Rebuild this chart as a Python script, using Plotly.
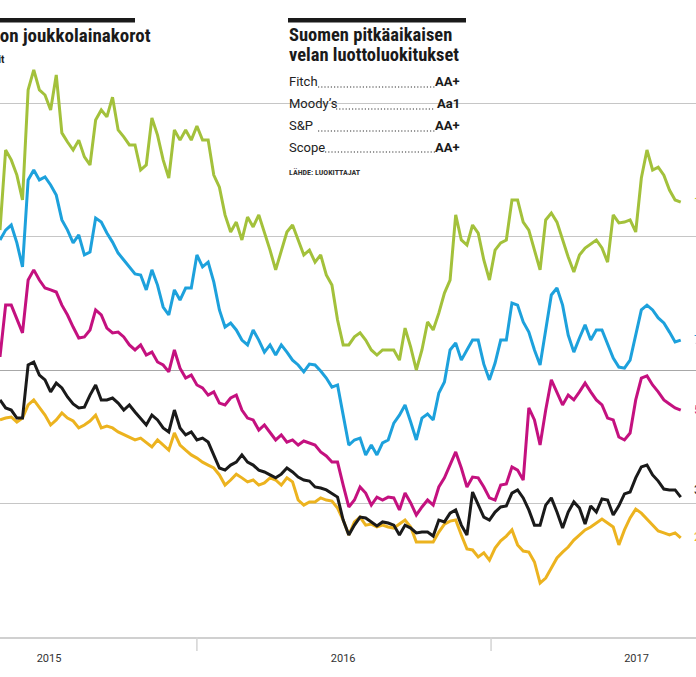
import pandas as pd
import plotly.graph_objects as go

# ---------------- data ----------------
dates = pd.date_range("2015-05-01", periods=122, freq="7D")

series_names = ["10 v", "7 v", "5 v", "3 v", "2 v"]
series_colors = ["#a3c13b", "#1da1dc", "#c4117f", "#1a1a1a", "#ecb31f"]

y10 = [0.524, 0.824, 0.787, 0.730, 0.637, 1.049, 1.124, 1.049, 1.030, 0.974,
       1.105, 0.888, 0.854, 0.824, 0.861, 0.798, 0.768, 0.936, 0.974, 0.948,
       1.022, 0.899, 0.873, 0.843, 0.843, 0.749, 0.768, 0.944, 0.880, 0.787,
       0.719, 0.899, 0.861, 0.899, 0.861, 0.914, 0.861, 0.861, 0.730, 0.685,
       0.581, 0.517, 0.554, 0.487, 0.573, 0.536, 0.581, 0.517, 0.449, 0.375,
       0.449, 0.517, 0.543, 0.487, 0.431, 0.449, 0.404, 0.431, 0.356, 0.318,
       0.187, 0.094, 0.094, 0.124, 0.139, 0.112, 0.075, 0.056, 0.075, 0.075,
       0.075, 0.037, 0.157, 0.086, 0.000, 0.075, 0.180, 0.150, 0.213, 0.288,
       0.337, 0.581, 0.487, 0.468, 0.543, 0.513, 0.412, 0.337, 0.449, 0.476,
       0.487, 0.637, 0.637, 0.554, 0.524, 0.449, 0.375, 0.562, 0.588, 0.554,
       0.487, 0.423, 0.367, 0.431, 0.457, 0.472, 0.487, 0.457, 0.404, 0.581,
       0.551, 0.554, 0.562, 0.517, 0.719, 0.824, 0.749, 0.760, 0.730, 0.674,
       0.637, 0.629]

y7 = [0.487, 0.524, 0.543, 0.476, 0.386, 0.712, 0.749, 0.712, 0.723, 0.693,
      0.655, 0.562, 0.524, 0.476, 0.506, 0.431, 0.442, 0.569, 0.554, 0.513,
      0.479, 0.438, 0.412, 0.386, 0.360, 0.356, 0.300, 0.375, 0.318, 0.236,
      0.206, 0.300, 0.262, 0.307, 0.307, 0.431, 0.386, 0.404, 0.330, 0.225,
      0.161, 0.176, 0.150, 0.112, 0.094, 0.150, 0.112, 0.067, 0.094, 0.056,
      0.094, 0.067, 0.037, 0.019, -0.007, 0.022, 0.019, -0.004, -0.030, -0.064,
      -0.056, -0.169, -0.281, -0.262, -0.255, -0.318, -0.281, -0.318, -0.273, -0.262,
      -0.199, -0.169, -0.131, -0.195, -0.262, -0.180, -0.165, -0.187, -0.086, -0.045,
      0.075, 0.101, 0.037, 0.075, 0.112, 0.112, 0.022, -0.037, 0.026, 0.112,
      0.112, 0.251, 0.243, 0.180, 0.142, 0.075, 0.019, 0.150, 0.281, 0.307,
      0.243, 0.131, 0.067, 0.120, 0.169, 0.112, 0.150, 0.150, 0.094, 0.045,
      0.011, 0.007, 0.037, 0.131, 0.225, 0.243, 0.225, 0.195, 0.176, 0.142,
      0.105, 0.112]

y5 = [0.049, 0.243, 0.243, 0.187, 0.139, 0.337, 0.375, 0.337, 0.307, 0.300,
      0.292, 0.243, 0.206, 0.161, 0.120, 0.124, 0.150, 0.225, 0.206, 0.157,
      0.139, 0.142, 0.124, 0.094, 0.075, 0.094, 0.056, 0.067, 0.030, 0.019,
      -0.007, 0.075, 0.007, -0.030, -0.019, -0.056, -0.067, -0.094, -0.082, -0.124,
      -0.131, -0.105, -0.094, -0.150, -0.180, -0.187, -0.225, -0.206, -0.236, -0.262,
      -0.243, -0.270, -0.262, -0.281, -0.266, -0.273, -0.281, -0.307, -0.322, -0.345,
      -0.345, -0.431, -0.513, -0.487, -0.438, -0.461, -0.506, -0.476, -0.487, -0.476,
      -0.479, -0.524, -0.461, -0.498, -0.543, -0.513, -0.487, -0.506, -0.438, -0.404,
      -0.356, -0.307, -0.367, -0.438, -0.401, -0.404, -0.438, -0.479, -0.487, -0.431,
      -0.427, -0.363, -0.375, -0.412, -0.142, -0.187, -0.281, -0.150, -0.037, -0.082,
      -0.131, -0.094, -0.112, -0.082, -0.049, -0.082, -0.112, -0.131, -0.180, -0.187,
      -0.251, -0.262, -0.236, -0.112, -0.030, -0.022, -0.056, -0.082, -0.112, -0.127,
      -0.142, -0.150]

y3 = [-0.112, -0.142, -0.150, -0.180, -0.180, 0.019, 0.030, -0.019, -0.037, -0.082,
      -0.049, -0.067, -0.101, -0.127, -0.142, -0.139, -0.094, -0.056, -0.112, -0.112,
      -0.105, -0.124, -0.150, -0.131, -0.157, -0.180, -0.206, -0.169, -0.187, -0.217,
      -0.232, -0.150, -0.217, -0.243, -0.232, -0.262, -0.255, -0.270, -0.318, -0.367,
      -0.375, -0.356, -0.345, -0.318, -0.345, -0.356, -0.375, -0.382, -0.393, -0.404,
      -0.390, -0.367, -0.382, -0.401, -0.412, -0.416, -0.438, -0.442, -0.449, -0.461,
      -0.476, -0.562, -0.618, -0.581, -0.551, -0.554, -0.569, -0.584, -0.569, -0.573,
      -0.581, -0.618, -0.581, -0.592, -0.610, -0.607, -0.607, -0.622, -0.562, -0.569,
      -0.536, -0.524, -0.581, -0.618, -0.457, -0.506, -0.551, -0.562, -0.532, -0.513,
      -0.509, -0.461, -0.449, -0.479, -0.524, -0.581, -0.581, -0.506, -0.479, -0.532,
      -0.592, -0.532, -0.494, -0.517, -0.577, -0.509, -0.532, -0.483, -0.487, -0.543,
      -0.509, -0.464, -0.457, -0.404, -0.363, -0.356, -0.393, -0.416, -0.446, -0.449,
      -0.449, -0.476]

y2 = [-0.187, -0.180, -0.176, -0.195, -0.180, -0.131, -0.112, -0.139, -0.169, -0.206,
      -0.187, -0.161, -0.180, -0.191, -0.217, -0.206, -0.191, -0.169, -0.217, -0.210,
      -0.217, -0.232, -0.243, -0.251, -0.262, -0.255, -0.270, -0.288, -0.262, -0.281,
      -0.300, -0.236, -0.281, -0.300, -0.318, -0.330, -0.345, -0.356, -0.367, -0.393,
      -0.431, -0.412, -0.390, -0.404, -0.419, -0.412, -0.431, -0.423, -0.404, -0.412,
      -0.431, -0.404, -0.419, -0.487, -0.506, -0.494, -0.494, -0.479, -0.487, -0.491,
      -0.517, -0.562, -0.618, -0.569, -0.551, -0.581, -0.577, -0.588, -0.581, -0.588,
      -0.592, -0.577, -0.562, -0.588, -0.644, -0.644, -0.644, -0.644, -0.607, -0.577,
      -0.566, -0.562, -0.618, -0.670, -0.674, -0.700, -0.685, -0.712, -0.667, -0.640,
      -0.622, -0.599, -0.655, -0.678, -0.682, -0.719, -0.798, -0.779, -0.742, -0.704,
      -0.682, -0.663, -0.637, -0.618, -0.599, -0.588, -0.573, -0.558, -0.573, -0.588,
      -0.655, -0.599, -0.554, -0.521, -0.536, -0.558, -0.581, -0.603, -0.610, -0.618,
      -0.610, -0.629]

series_values = [y10, y7, y5, y3, y2]

year_ticks = ["2015-07-01", "2016-07-01", "2017-07-01"]
year_labels = ["2015", "2016", "2017"]
year_starts = ["2016-01-01", "2017-01-01"]
grid_values = [-0.5, 0.5, 1.0]

title_text = "Suomen valtion joukkolainakorot"
subtitle_text = "Prosentit"
box_title = ["Suomen pitkäaikaisen", "velan luottoluokitukset"]
agencies = ["Fitch", "Moody’s", "S&P", "Scope"]
ratings = ["AA+", "Aa1", "AA+", "AA+"]
source_text = "LÄHDE: LUOKITTAJAT"

# ---------------- layout helpers ----------------
W, H, PLOT_H = 696, 677, 637
FONT = "Liberation Sans Narrow, Roboto Condensed, Roboto, sans-serif"
BODY = "Roboto, Liberation Sans, sans-serif"


def px(x):
    return x / W


def py(y):
    return 1 - y / PLOT_H


fig = go.Figure()
for name, color, vals in zip(series_names[::-1], series_colors[::-1], series_values[::-1]):
    fig.add_trace(go.Scatter(x=dates, y=vals, mode="lines", name=name,
                             line=dict(color=color, width=3), showlegend=False,
                             hoverinfo="skip"))

annotations = []
shapes = []

# end labels (cropped at right edge)
end_y = [202, 340, 410, 490, 537]
for name, color, yy in zip(series_names, series_colors, end_y):
    annotations.append(dict(x=px(692), y=py(yy), xref="paper", yref="paper",
                            text=name, showarrow=False, xanchor="left", yanchor="middle",
                            font=dict(family=BODY, size=12, color=color)))

# left title (cropped at left edge)
shapes.append(dict(type="rect", xref="paper", yref="paper", x0=px(-300), x1=px(135),
                   y0=py(22.5), y1=py(18), fillcolor="#1a1a1a", line_width=0))
annotations.append(dict(x=px(153), y=py(35), xref="paper", yref="paper", text=f"<b>{title_text}</b>",
                        showarrow=False, xanchor="right", yanchor="middle",
                        font=dict(family=FONT, size=19, color="#1a1a1a")))
annotations.append(dict(x=px(7), y=py(60), xref="paper", yref="paper", text=f"<b>{subtitle_text}</b>",
                        showarrow=False, xanchor="right", yanchor="middle",
                        font=dict(family=FONT, size=11, color="#1a1a1a")))

# rating box
shapes.append(dict(type="rect", xref="paper", yref="paper", x0=px(253), x1=px(499),
                   y0=py(110), y1=py(96), fillcolor="white", line_width=0, layer="between"))
shapes.append(dict(type="rect", xref="paper", yref="paper", x0=px(288), x1=px(466),
                   y0=py(22.5), y1=py(18), fillcolor="#1a1a1a", line_width=0))
for i, line in enumerate(box_title):
    annotations.append(dict(x=px(287), y=py(35 + 20.5 * i), xref="paper", yref="paper",
                            text=f"<b>{line}</b>", showarrow=False, xanchor="left",
                            yanchor="middle", font=dict(family=FONT, size=18.5, color="#1a1a1a")))
row_y = [82, 104, 126, 147]
label_end = [318, 336, 318, 325]
for ag, rt, yy, le in zip(agencies, ratings, row_y, label_end):
    annotations.append(dict(x=px(287), y=py(yy), xref="paper", yref="paper", text=ag,
                            showarrow=False, xanchor="left", yanchor="middle",
                            font=dict(family=BODY, size=13, color="#222222")))
    annotations.append(dict(x=px(462), y=py(yy), xref="paper", yref="paper", text=f"<b>{rt}</b>",
                            showarrow=False, xanchor="right", yanchor="middle",
                            font=dict(family=BODY, size=13, color="#1a1a1a")))
    shapes.append(dict(type="line", xref="paper", yref="paper", x0=px(le), x1=px(435),
                       y0=py(yy + 5), y1=py(yy + 5),
                       line=dict(color="#333333", width=1.2, dash="1.2px,2px")))
annotations.append(dict(x=px(287), y=py(172), xref="paper", yref="paper", text=f"<b>{source_text}</b>",
                        showarrow=False, xanchor="left", yanchor="middle",
                        font=dict(family=FONT, size=8, color="#333333")))

# year dividers
for ys in year_starts:
    shapes.append(dict(type="line", xref="x", yref="paper", x0=ys, x1=ys, y0=0, y1=py(651),
                       line=dict(color="#d4d4d4", width=1.5)))

fig.update_layout(
    width=W, height=H,
    margin=dict(l=0, r=0, t=0, b=H - PLOT_H, pad=0),
    paper_bgcolor="white", plot_bgcolor="white",
    annotations=annotations, shapes=shapes,
    xaxis=dict(type="date", range=["2015-05-01", "2017-09-13"], tickvals=year_ticks,
               ticktext=year_labels, showgrid=False, zeroline=False, showline=True,
               linecolor="#d0d0d0", linewidth=2, ticks="outside", ticklen=10,
               tickcolor="rgba(0,0,0,0)", fixedrange=True,
               tickfont=dict(family=BODY, size=11, color="#333333")),
    yaxis=dict(range=[-1.0, 1.3858], tickvals=grid_values, showticklabels=False,
               showgrid=True, gridcolor="#c6c6c6", gridwidth=1.3,
               zeroline=True, zerolinecolor="#a8a8a8", zerolinewidth=1.3,
               ticks="", showline=False, fixedrange=True),
)

fig.write_html("out.html")
